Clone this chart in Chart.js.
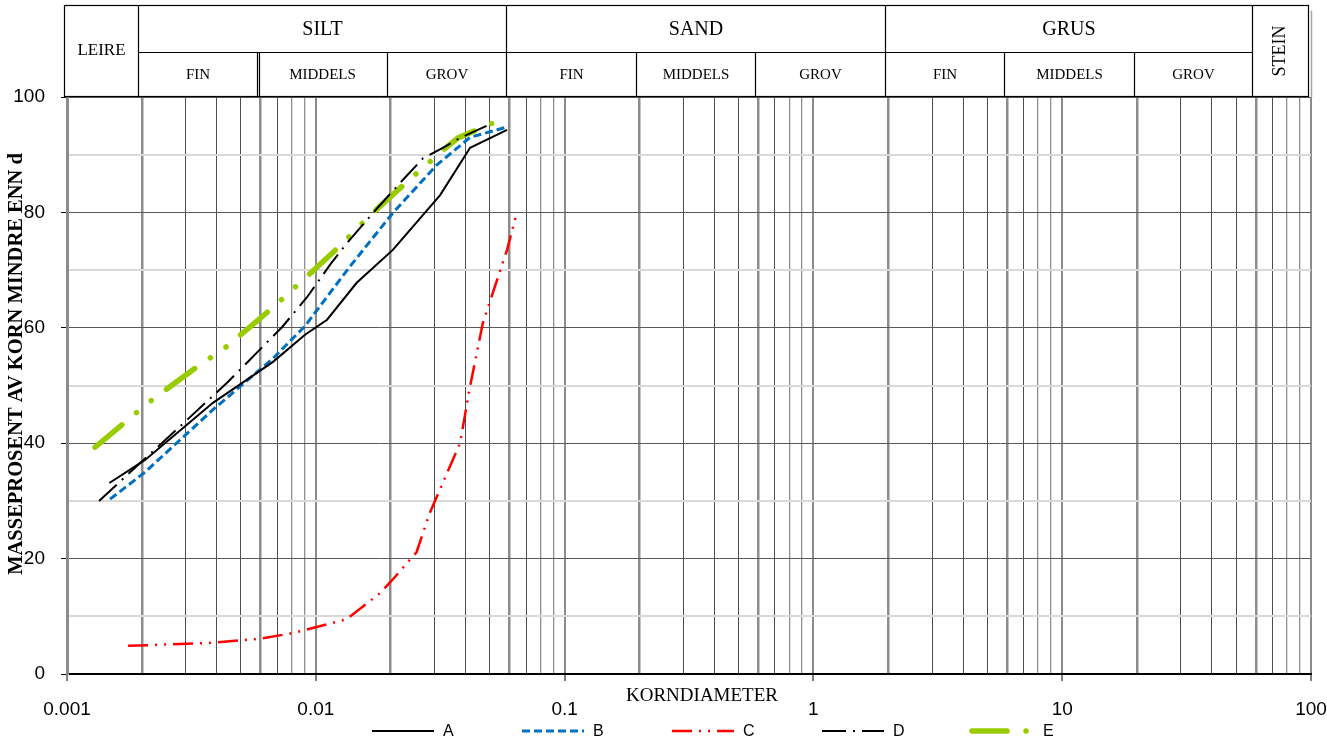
<!DOCTYPE html>
<html>
<head>
<meta charset="utf-8">
<script src="https://cdn.jsdelivr.net/npm/chart.js@4.4.0/dist/chart.umd.min.js"></script>
<style>
  html, body { margin: 0; padding: 0; background: #fff; }
  canvas { display: block; }
</style>
</head>
<body>
<canvas id="kornfordeling" width="1327" height="742"></canvas>
<script>
// kornfordelingskurver, lest av figuren
const seriesNames = ['A', 'B', 'C', 'D', 'E'];

const sizeA = [0.00148, 0.00206, 0.00386, 0.00673, 0.00905, 0.0111, 0.0146, 0.0204, 0.0316, 0.0417, 0.0587];
const passA = [33.1, 37.1, 47.0, 54.1, 58.8, 61.4, 67.8, 73.5, 83.0, 91.2, 94.3];

const sizeB = [0.00149, 0.00206, 0.00386, 0.00673, 0.00905, 0.0137, 0.0204, 0.0306, 0.0417, 0.0587];
const passB = [30.3, 35.0, 45.8, 54.7, 60.3, 70.6, 79.9, 88.2, 93.0, 94.8];

const sizeC = [0.00176, 0.00212, 0.00376, 0.00596, 0.00811, 0.0133, 0.0181, 0.0203, 0.0254, 0.0287, 0.0380, 0.0414, 0.0469, 0.0587, 0.0642];
const passC = [4.9, 5.0, 5.4, 6.1, 7.1, 9.5, 14.0, 16.3, 21.1, 27.9, 40.0, 49.2, 60.8, 73.5, 79.9];

const sizeD = [0.001345, 0.00267, 0.00443, 0.00731, 0.00922, 0.0114, 0.01335, 0.0178, 0.0228, 0.0270, 0.0324, 0.038, 0.0515];
const passD = [30.0, 41.8, 50.6, 60.1, 65.3, 70.9, 74.7, 80.9, 86.0, 89.4, 91.2, 92.9, 95.5];

const sizeE = [0.001296, 0.00212, 0.0032, 0.0044, 0.00655, 0.00864, 0.01274, 0.01652, 0.0244, 0.0325, 0.0373, 0.0515];
const passE = [39.3, 47.0, 52.7, 56.8, 63.1, 67.8, 74.5, 79.5, 86.1, 90.8, 92.9, 95.5];

// akser
const xDecades = [0.001, 0.01, 0.1, 1, 10];
const xTickLabels = ['0.001', '0.01', '0.1', '1', '10', '100'];
const yTickLabels = ['0', '20', '40', '60', '80', '100'];

// fraksjonstabell over diagrammet
const mainNames = ['LEIRE', 'SILT', 'SAND', 'GRUS', 'STEIN'];
const mainBounds = [0.001, 0.002, 0.06, 2, 60, 100];
const subNames = ['FIN', 'MIDDELS', 'GROV'];
const subBounds = [
  [0.002, 0.006, 0.02, 0.06],
  [0.06, 0.2, 0.6, 2],
  [2, 6, 20, 60]
];

const xTitle = 'KORNDIAMETER';
const yTitle = 'MASSEPROSENT AV KORN MINDRE ENN d';

const pts = (xs, ys) => xs.map((x, i) => ({ x: x, y: ys[i] }));

function mantissa(v) {
  const e = Math.floor(Math.log10(v) + 1e-9);
  return Math.round(v / Math.pow(10, e));
}

const SERIF = '"Liberation Serif", "Times New Roman", serif';
const SANS = '"Liberation Sans", Arial, sans-serif';

const tablePlugin = {
  id: 'tabell',
  afterDraw(chart) {
    const c = chart.ctx;
    const xs = chart.scales.x;
    const X = v => Math.round(xs.getPixelForValue(v) - 3.5) + 0.5;
    const top = 5.5, mid = 52.5, bot = 96.5;
    c.save();
    c.fillStyle = '#fff';
    c.fillRect(X(0.001), top, X(100) - X(0.001), bot - top);
    // skygge til høyre
    c.strokeStyle = '#a6a6a6';
    c.lineWidth = 1.5;
    c.beginPath();
    c.moveTo(X(100) + 3, top + 5);
    c.lineTo(X(100) + 3, bot + 1);
    c.stroke();

    c.strokeStyle = '#000';
    c.lineWidth = 1.2;
    c.strokeRect(X(0.001), top, X(100) - X(0.001), bot - top);
    c.beginPath();
    mainBounds.slice(1, -1).forEach(b => { c.moveTo(X(b), top); c.lineTo(X(b), bot); });
    c.moveTo(X(mainBounds[1]), mid);
    c.lineTo(X(mainBounds[4]), mid);
    subBounds.forEach(sb => {
      sb.slice(1, -1).forEach(b => { c.moveTo(X(b), mid); c.lineTo(X(b), bot); });
    });
    // dobbel strek i silt
    c.moveTo(X(0.006) + 2, mid);
    c.lineTo(X(0.006) + 2, bot);
    c.stroke();

    c.fillStyle = '#000';
    c.textAlign = 'center';
    c.textBaseline = 'middle';
    mainNames.forEach((name, i) => {
      const cx = (X(mainBounds[i]) + X(mainBounds[i + 1])) / 2;
      if (name === 'LEIRE') {
        c.font = '17px ' + SERIF;
        c.fillText(name, cx, (top + bot) / 2);
      } else if (name === 'STEIN') {
        c.font = '18px ' + SERIF;
        c.save();
        c.translate(cx, (top + bot) / 2);
        c.rotate(-Math.PI / 2);
        c.fillText(name, 0, 0);
        c.restore();
      } else {
        c.font = '20px ' + SERIF;
        c.fillText(name, cx, (top + mid) / 2 + 1);
      }
    });
    c.font = '15px ' + SERIF;
    subBounds.forEach(sb => {
      subNames.forEach((name, j) => {
        const cx = (X(sb[j]) + X(sb[j + 1])) / 2;
        c.fillText(name, cx, (mid + bot) / 2 + 1);
      });
    });

    // aksetitler
    const area = chart.chartArea;
    c.font = '19px ' + SERIF;
    c.fillText(xTitle, (area.left + area.right) / 2 + 13, 696);
    c.save();
    c.font = 'bold 20.5px ' + SERIF;
    c.translate(17, 364);
    c.rotate(-Math.PI / 2);
    c.fillText(yTitle, 0, 0);
    c.restore();

    // tegnforklaring
    chart.data.datasets.forEach((ds, i) => {
      const x0 = 372 + i * 150, y0 = 731;
      c.save();
      c.strokeStyle = ds.borderColor;
      c.lineWidth = ds.borderWidth;
      c.lineCap = ds.borderCapStyle || 'butt';
      c.setLineDash(ds.borderDash || []);
      c.beginPath();
      c.moveTo(x0, y0);
      c.lineTo(x0 + 62, y0);
      c.stroke();
      c.restore();
      c.fillStyle = '#000';
      c.font = '16px ' + SANS;
      c.textAlign = 'left';
      c.fillText(ds.label, x0 + 71, y0 + 1);
    });
    c.restore();
  }
};

new Chart(document.getElementById('kornfordeling'), {
  type: 'line',
  data: {
    datasets: [
      { label: seriesNames[0], data: pts(sizeA, passA), borderColor: '#000000', borderWidth: 2 },
      { label: seriesNames[1], data: pts(sizeB, passB), borderColor: '#0070c0', borderWidth: 3, borderDash: [8, 4] },
      { label: seriesNames[2], data: pts(sizeC, passC), borderColor: '#ff0000', borderWidth: 2.5, borderDash: [20, 7, 2, 7, 2, 7] },
      { label: seriesNames[3], data: pts(sizeD, passD), borderColor: '#000000', borderWidth: 2, borderDash: [24, 7, 2, 7] },
      { label: seriesNames[4], data: pts(sizeE, passE), borderColor: '#99cc00', borderWidth: 5.5, borderDash: [35, 19, 0.01, 19, 0.01, 19], borderCapStyle: 'round' }
    ]
  },
  options: {
    responsive: false,
    animation: false,
    elements: { point: { radius: 0 }, line: { tension: 0, fill: false } },
    layout: { padding: { top: 97, right: 16, bottom: 0, left: 0 } },
    plugins: { legend: { display: false }, tooltip: { enabled: false } },
    scales: {
      x: {
        type: 'logarithmic',
        min: 0.001,
        max: 100,
        afterFit: s => { s.height = 68; s.paddingLeft = 0; s.paddingRight = 0; },
        afterBuildTicks: s => {
          const t = [];
          xDecades.forEach(d => { for (let m = 1; m <= 9; m++) t.push({ value: d * m }); });
          t.push({ value: 100 });
          s.ticks = t;
        },
        ticks: {
          autoSkip: false,
          maxRotation: 0,
          padding: 17,
          color: '#000',
          font: { family: SANS, size: 19 },
          callback: function (v) {
            const k = Math.log10(v) + 3;
            return Math.abs(k - Math.round(k)) < 1e-6 ? xTickLabels[Math.round(k)] : '';
          }
        },
        grid: {
          tickLength: 7,
          color: ctx => {
            if (!ctx.tick) return '#4d4d4d';
            const m = mantissa(ctx.tick.value);
            if (m === 1 || m === 2 || m === 6) return '#8c8c8c';
            if (m === 8 || m === 9) return '#8f8f8f';
            return '#4d4d4d';
          },
          lineWidth: ctx => {
            if (!ctx.tick) return 1;
            const m = mantissa(ctx.tick.value);
            if (m === 2 || m === 6) return 2.5;
            if (m === 1) return 2;
            if (m === 8 || m === 9) return 1.3;
            return 1;
          },
          tickColor: ctx => (ctx.tick && mantissa(ctx.tick.value) === 1) ? '#000' : 'rgba(0,0,0,0)',
          tickWidth: 1
        },
        border: { color: '#000', width: 2 }
      },
      y: {
        min: 0,
        max: 100,
        afterFit: s => { s.width = 67; },
        ticks: {
          stepSize: 10,
          padding: 16,
          color: '#000',
          font: { family: SANS, size: 19 },
          callback: v => (v % 20 === 0 ? yTickLabels[v / 20] : '')
        },
        grid: {
          tickLength: 6,
          color: ctx => (ctx.tick && ctx.tick.value % 20 === 0) ? '#595959' : '#d9d9d9',
          lineWidth: ctx => (ctx.tick && ctx.tick.value % 20 === 0) ? 1 : 2,
          tickColor: ctx => (ctx.tick && ctx.tick.value % 20 === 0) ? '#000' : 'rgba(0,0,0,0)'
        },
        border: { color: '#8c8c8c', width: 3 }
      }
    }
  },
  plugins: [tablePlugin]
});
</script>
</body>
</html>
